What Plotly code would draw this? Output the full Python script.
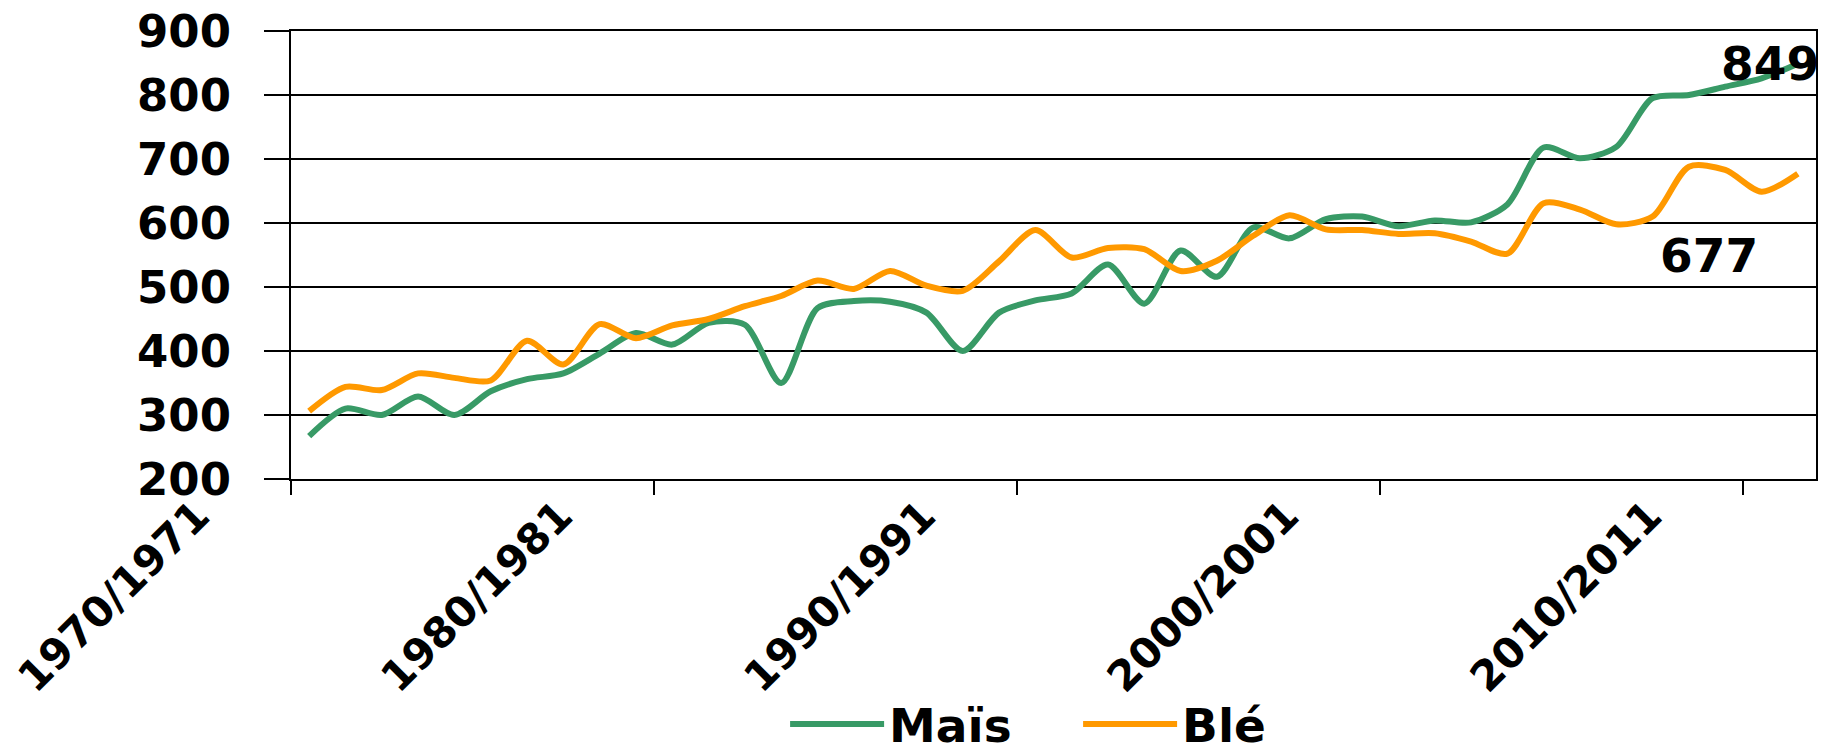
import plotly.graph_objects as go

categories = [f"{y}/{y + 1}" for y in range(1970, 2012)]

mais = [267, 310, 300, 329, 300, 337, 356, 365, 396, 428,
        410, 444, 441, 350, 467, 478, 477, 460, 400, 460,
        479, 490, 535, 474, 557, 516, 593, 576, 606, 610,
        595, 604, 601, 629, 718, 701, 719, 795, 800, 813,
        826, 849]

ble = [306, 344, 339, 365, 358, 354, 416, 379, 442, 420,
       440, 450, 470, 486, 510, 497, 525, 502, 494, 540,
       589, 546, 561, 559, 525, 541, 580, 612, 590, 589,
       583, 584, 571, 552, 631, 621, 598, 610, 688, 683,
       649, 677]

label_every = 10
y_ticks = [200, 300, 400, 500, 600, 700, 800, 900]

GREEN = "#389a66"
ORANGE = "#ff9900"
FONT = dict(family="DejaVu Sans", size=47, color="black", weight="bold")
YFONT = dict(family="DejaVu Sans", size=45, color="black", weight="bold")
XFONT = dict(family="DejaVu Sans", size=42, color="black", weight="bold")

x_idx = list(range(len(categories)))

fig = go.Figure()
fig.add_trace(go.Scatter(x=x_idx, y=mais, name="Maïs", mode="lines",
                         line=dict(color=GREEN, width=6, shape="spline", smoothing=0.8)))
fig.add_trace(go.Scatter(x=x_idx, y=ble, name="Blé", mode="lines",
                         line=dict(color=ORANGE, width=6, shape="spline", smoothing=0.8)))

tick_pos = [i - 0.5 for i in range(0, len(categories), label_every)]
tick_txt = [categories[i] for i in range(0, len(categories), label_every)]

fig.update_xaxes(range=[-0.5, len(categories) - 0.5], tickmode="array",
                 tickvals=tick_pos, ticktext=tick_txt, tickangle=-45,
                 ticks="outside", ticklen=14, tickwidth=2, tickcolor="black",
                 showline=True, linecolor="black", linewidth=2, mirror=True,
                 showgrid=False, zeroline=False, tickfont=XFONT,
                 ticklabelshift=-94, ticklabelstandoff=-21,
                 ticklabeloverflow="allow", automargin=False)
fig.update_yaxes(range=[200, 900], tickmode="array", tickvals=y_ticks,
                 ticks="outside", ticklen=25, tickwidth=2, tickcolor="black",
                 showline=True, linecolor="black", linewidth=2, mirror=True,
                 showgrid=True, gridcolor="black", gridwidth=2,
                 zeroline=False, tickfont=YFONT, ticklabelstandoff=24,
                 ticklabeloverflow="allow", automargin=False)

fig.add_annotation(x=x_idx[-1], y=mais[-1], text=str(mais[-1]), showarrow=False,
                   xref="x", yref="y", xshift=-28, font=FONT)
fig.add_annotation(x=x_idx[-1], y=ble[-1], text=str(ble[-1]), showarrow=False,
                   xref="x", yref="y", xshift=-89, yshift=-82, font=FONT)

fig.update_layout(width=1845, height=752,
                  margin=dict(l=283, r=37, t=23, b=281, autoexpand=False),
                  plot_bgcolor="white", paper_bgcolor="white",
                  showlegend=True,
                  legend=dict(orientation="h", x=0.324, xanchor="left",
                              y=-0.548, yanchor="middle", itemwidth=94,
                              font=FONT, entrywidth=184, entrywidthmode="pixels",
                              bgcolor="rgba(0,0,0,0)"))

fig.write_html("out.html")
